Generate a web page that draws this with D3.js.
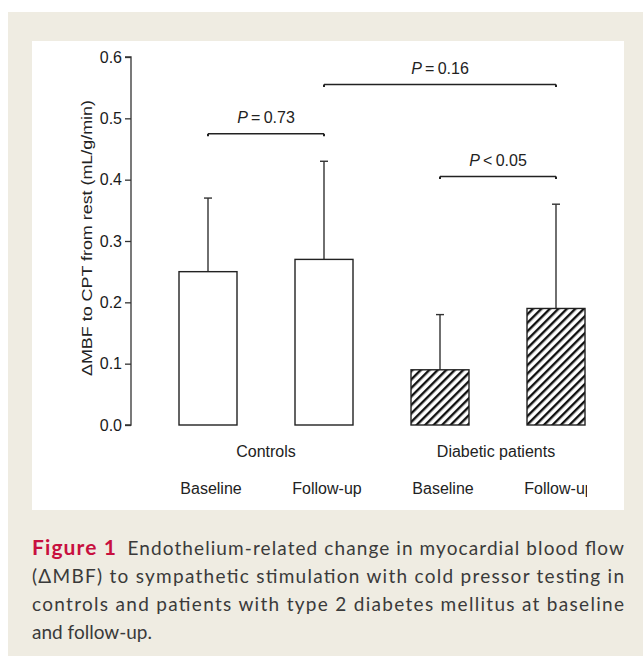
<!DOCTYPE html>
<html>
<head>
<meta charset="utf-8">
<script src="https://cdn.jsdelivr.net/npm/d3@7"></script>
<style>
  body{margin:0;background:#fff;}
  svg{display:block;}
  .tick_lbl{font-family:"Liberation Sans",Arial,sans-serif;font-size:16px;fill:#1a1a1a;}
  .cat_lbl{font-family:"Liberation Sans",Arial,sans-serif;font-size:16px;fill:#222;}
  .p_lbl{font-family:"Liberation Sans",Arial,sans-serif;font-size:16px;fill:#222;}
  .cap{font-family:"Lato","Open Sans",sans-serif;font-size:19px;fill:#3a3a3a;}
</style>
</head>
<body>
<svg></svg>
<script>
// 데이터
const bar_keys = ['ctl_base','ctl_fu','dm_base','dm_fu'];
const bar_means = [0.25, 0.27, 0.09, 0.19];
const bar_upper = [0.37, 0.43, 0.18, 0.36];   // mean + SD
const bar_hatch = [false, false, true, true];
const time_labels = ['Baseline','Follow-up','Baseline','Follow-up'];
const group_labels = ['Controls','Diabetic patients'];
const y_ticks = [0.0,0.1,0.2,0.3,0.4,0.5,0.6];
// 비교 bracket : from, to, 높이(y값), 부호, p값
const p_from = ['ctl_base','ctl_fu','dm_base'];
const p_to = ['ctl_fu','dm_fu','dm_fu'];
const p_level = [0.475, 0.555, 0.405];
const p_op = ['=','=','<'];
const p_val = ['0.73','0.16','0.05'];
const caption_lines = [
  'Endothelium-related change in myocardial blood flow',
  '(\u0394MBF) to sympathetic stimulation with cold pressor testing in',
  'controls and patients with type 2 diabetes mellitus at baseline',
  'and follow-up.'
];

const W = 643, H = 656;
const svg = d3.select('svg').attr('width',W).attr('height',H);

// 배경 / 패널
svg.append('rect').attr('x',8).attr('y',12).attr('width',W-8).attr('height',H-12).attr('fill','#efece2');
svg.append('rect').attr('x',32).attr('y',41).attr('width',592).attr('height',469).attr('fill','#fff');

// hatch pattern
const defs = svg.append('defs');
defs.append('pattern').attr('id','hatch').attr('patternUnits','userSpaceOnUse')
  .attr('width',6).attr('height',6).attr('patternTransform','rotate(45)')
  .append('rect').attr('x',0).attr('y',0).attr('width',2.4).attr('height',6).attr('fill','#111');
defs.append('clipPath').attr('id','clip').append('rect')
  .attr('x',32).attr('y',41).attr('width',555).attr('height',469);

const x_scale = d3.scaleBand().domain(bar_keys).range([150,614]).paddingInner(0.5).paddingOuter(0.25);
const y_scale = d3.scaleLinear().domain([0,0.6]).range([425,57]);

const g = svg.append('g').attr('clip-path','url(#clip)');

// y axis
const y_axis = d3.axisLeft(y_scale).tickValues(y_ticks).tickFormat(d3.format('.1f')).tickSize(6).tickPadding(3);
const ax = g.append('g').attr('transform','translate(131,0)').call(y_axis);
ax.attr('font-size',null).attr('font-family',null);
ax.select('.domain').attr('stroke','#333').attr('stroke-width',1.3).attr('d','M-6,'+y_scale(0.6)+'H0V'+y_scale(0)+'H-6');
ax.selectAll('.tick line').attr('stroke','#333').attr('stroke-width',1.3);
ax.selectAll('.tick text').attr('class','tick_lbl').attr('fill','#1a1a1a').style('font-size','16px');

g.append('text').attr('class','cat_lbl').style('font-size','15px')
  .attr('transform','translate(92,238) rotate(-90)')
  .attr('text-anchor','middle').attr('textLength',276).attr('lengthAdjust','spacingAndGlyphs')
  .text('\u0394MBF to CPT from rest (mL/g/min)');

// error bars
bar_keys.forEach((k,i)=>{
  const cx = x_scale(k) + x_scale.bandwidth()/2;
  g.append('line').attr('x1',cx).attr('x2',cx)
    .attr('y1',y_scale(bar_means[i])).attr('y2',y_scale(bar_upper[i]))
    .attr('stroke','#333').attr('stroke-width',1.4);
  g.append('line').attr('x1',cx-4).attr('x2',cx+4)
    .attr('y1',y_scale(bar_upper[i])).attr('y2',y_scale(bar_upper[i]))
    .attr('stroke','#333').attr('stroke-width',1.4);
});

// bars
g.selectAll('.bar').data(bar_keys).enter().append('rect')
  .attr('class','bar')
  .attr('x',d=>x_scale(d)).attr('width',x_scale.bandwidth())
  .attr('y',(d,i)=>y_scale(bar_means[i]))
  .attr('height',(d,i)=>y_scale(0)-y_scale(bar_means[i]))
  .attr('fill',(d,i)=>bar_hatch[i]?'url(#hatch)':'#fff')
  .attr('stroke','#222').attr('stroke-width',1.4);

// p-value brackets
p_from.forEach((f,i)=>{
  const x1 = x_scale(f)+x_scale.bandwidth()/2;
  const x2 = x_scale(p_to[i])+x_scale.bandwidth()/2;
  const y = y_scale(p_level[i]);
  g.append('line').attr('x1',x1).attr('x2',x2).attr('y1',y).attr('y2',y)
    .attr('stroke','#222').attr('stroke-width',1.5);
  [x1,x2].forEach(xx=>{
    g.append('line').attr('x1',xx).attr('x2',xx).attr('y1',y).attr('y2',y+2.5)
      .attr('stroke','#222').attr('stroke-width',2);
  });
  const t = g.append('text').attr('class','p_lbl').attr('text-anchor','middle')
    .attr('x',(x1+x2)/2).attr('y',y-11);
  t.append('tspan').attr('font-style','italic').text('P');
  t.append('tspan').text('\u2009'+p_op[i]+'\u2009'+p_val[i]);
});

// category labels
g.selectAll('.time_lbl').data(time_labels).enter().append('text')
  .attr('class','cat_lbl').attr('text-anchor','middle')
  .attr('x',(d,i)=>x_scale(bar_keys[i])+x_scale.bandwidth()/2+3)
  .attr('y',494).text(d=>d);
group_labels.forEach((lbl,i)=>{
  const a = x_scale(bar_keys[i*2]), b = x_scale(bar_keys[i*2+1])+x_scale.bandwidth();
  g.append('text').attr('class','cat_lbl').attr('text-anchor','middle')
    .attr('x',(a+b)/2 + (i?-2:0)).attr('y',457).text(lbl);
});

// caption
const cap = svg.append('g');
const lh = 28;
caption_lines.forEach((ln,i)=>{
  const t = cap.append('text').attr('class','cap').attr('x',32).attr('y',555+i*lh);
  if(i===0){
    t.append('tspan').attr('font-weight','bold').attr('fill','#c8103f').attr('font-size','21px').text('Figure 1');
    t.append('tspan').text('\u2002'+ln);
  }else{
    t.text(ln);
  }
  if(i<caption_lines.length-1){
    t.attr('textLength',592).attr('lengthAdjust','spacing');
  }
});
</script>
</body>
</html>
